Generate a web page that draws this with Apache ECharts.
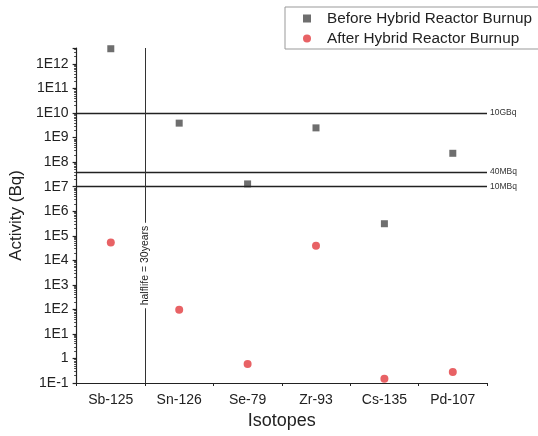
<!DOCTYPE html>
<html>
<head>
<meta charset="utf-8">
<script src="https://cdn.jsdelivr.net/npm/echarts@6/dist/echarts.min.js"></script>
<style>
html, body { margin: 0; padding: 0; background: #fff; }
#main { width: 538px; height: 436px; }
</style>
</head>
<body>
<div id="main"></div>
<script>
var isotopes = ['Sb-125', 'Sn-126', 'Se-79', 'Zr-93', 'Cs-135', 'Pd-107'];
var beforeBurnup = [4.2e12, 3.9e9, 1.3e7, 2.5e9, 3.1e5, 2.3e8];
var afterBurnup = [5.3e4, 96, 0.6, 3.9e4, 0.15, 0.28];
var limitValues = [1e10, 4e7, 1e7];
var limitLabels = ['10GBq', '40MBq', '10MBq'];
var halflifeBoundary = 1; // edge between Sb-125 and Sn-126
var halflifeLabel = 'halflife = 30years';

var FONT = "'Liberation Sans', Arial, sans-serif";
var INK = '#222';
var SQUARE = 'path://M0,0L10,0L10,10L0,10Z';

function expLabel(v) {
    var e = Math.log10(v);
    var r = Math.round(e);
    if (Math.abs(e - r) > 1e-6) return '';
    return r === 0 ? '1' : '1E' + r;
}

var option = {
    animation: false,
    textStyle: { fontFamily: FONT },
    grid: { left: 73, right: 51, top: 48, bottom: 53 },
    legend: {
        orient: 'vertical',
        left: 285,
        top: 7,
        itemWidth: 30,
        itemHeight: 8,
        itemGap: 5,
        padding: [4, 30, 3, 18],
        borderColor: '#999',
        borderWidth: 1,
        symbolKeepAspect: true,
        textStyle: { fontSize: 15.3, color: INK, fontFamily: FONT },
        data: [
            { name: 'Before Hybrid Reactor Burnup', icon: SQUARE },
            { name: 'After Hybrid Reactor Burnup', icon: 'circle' }
        ]
    },
    xAxis: [{
        type: 'category',
        data: isotopes,
        boundaryGap: true,
        name: 'Isotopes',
        nameLocation: 'middle',
        nameGap: 28,
        nameTextStyle: { fontSize: 18, color: INK, fontFamily: FONT },
        axisLine: { lineStyle: { color: INK, width: 1.2 } },
        axisTick: { alignWithLabel: true, length: 5, lineStyle: { color: INK, width: 1.2 } },
        axisLabel: { fontSize: 14, color: INK, margin: 10, fontFamily: FONT },
        splitLine: { show: false }
    }, {
        // edges between categories, used for the boundary ticks and the half-life line
        type: 'value',
        min: 0,
        max: isotopes.length,
        interval: 1,
        position: 'bottom',
        axisLine: { show: false },
        axisTick: { show: true, length: 3, lineStyle: { color: INK, width: 1 } },
        axisLabel: { show: false },
        splitLine: { show: false }
    }],
    yAxis: {
        type: 'log',
        logBase: 10,
        min: 0.1,
        max: 4.5e12,
        interval: 1,
        name: 'Activity (Bq)',
        nameLocation: 'middle',
        nameGap: 45,
        nameTextStyle: { fontSize: 17, color: INK, fontFamily: FONT },
        axisLine: { show: true, lineStyle: { color: INK, width: 1.2 } },
        axisTick: { show: true, length: 4, lineStyle: { color: INK, width: 1.2 } },
        minorTick: { show: true, splitNumber: 9, length: 2.5, lineStyle: { color: INK, width: 0.8 } },
        axisLabel: { fontSize: 14, color: INK, margin: 8, fontFamily: FONT, formatter: expLabel },
        splitLine: { show: false }
    },
    series: [{
        name: 'Before Hybrid Reactor Burnup',
        type: 'scatter',
        symbol: 'rect',
        symbolSize: 7,
        itemStyle: { color: '#4a4a4a' },
        data: beforeBurnup,
        markLine: {
            silent: true,
            symbol: ['none', 'none'],
            lineStyle: { color: INK, type: 'solid', width: 1.3 },
            label: { position: 'end', distance: 3, fontSize: 8.5, color: '#333', fontFamily: FONT },
            data: limitValues.map(function (v, i) {
                return { yAxis: v, label: { formatter: limitLabels[i] } };
            })
        }
    }, {
        name: 'After Hybrid Reactor Burnup',
        type: 'scatter',
        symbol: 'circle',
        symbolSize: 8,
        itemStyle: { color: '#e23b3f' },
        data: afterBurnup
    }, {
        name: 'halflife',
        type: 'line',
        xAxisIndex: 1,
        data: [],
        markLine: {
            silent: true,
            symbol: ['none', 'none'],
            lineStyle: { color: '#333', type: 'solid', width: 1 },
            label: {
                position: 'middle',
                distance: 0,
                verticalAlign: 'middle',
                padding: [0, 100, 0, 0],
                formatter: '{a|' + halflifeLabel + '}',
                rich: {
                    a: { fontSize: 10.5, color: INK, fontFamily: FONT, backgroundColor: '#fff', padding: [2, 3] }
                }
            },
            data: [{ xAxis: halflifeBoundary }]
        }
    }]
};

echarts.init(document.getElementById('main')).setOption(option);
</script>
</body>
</html>
